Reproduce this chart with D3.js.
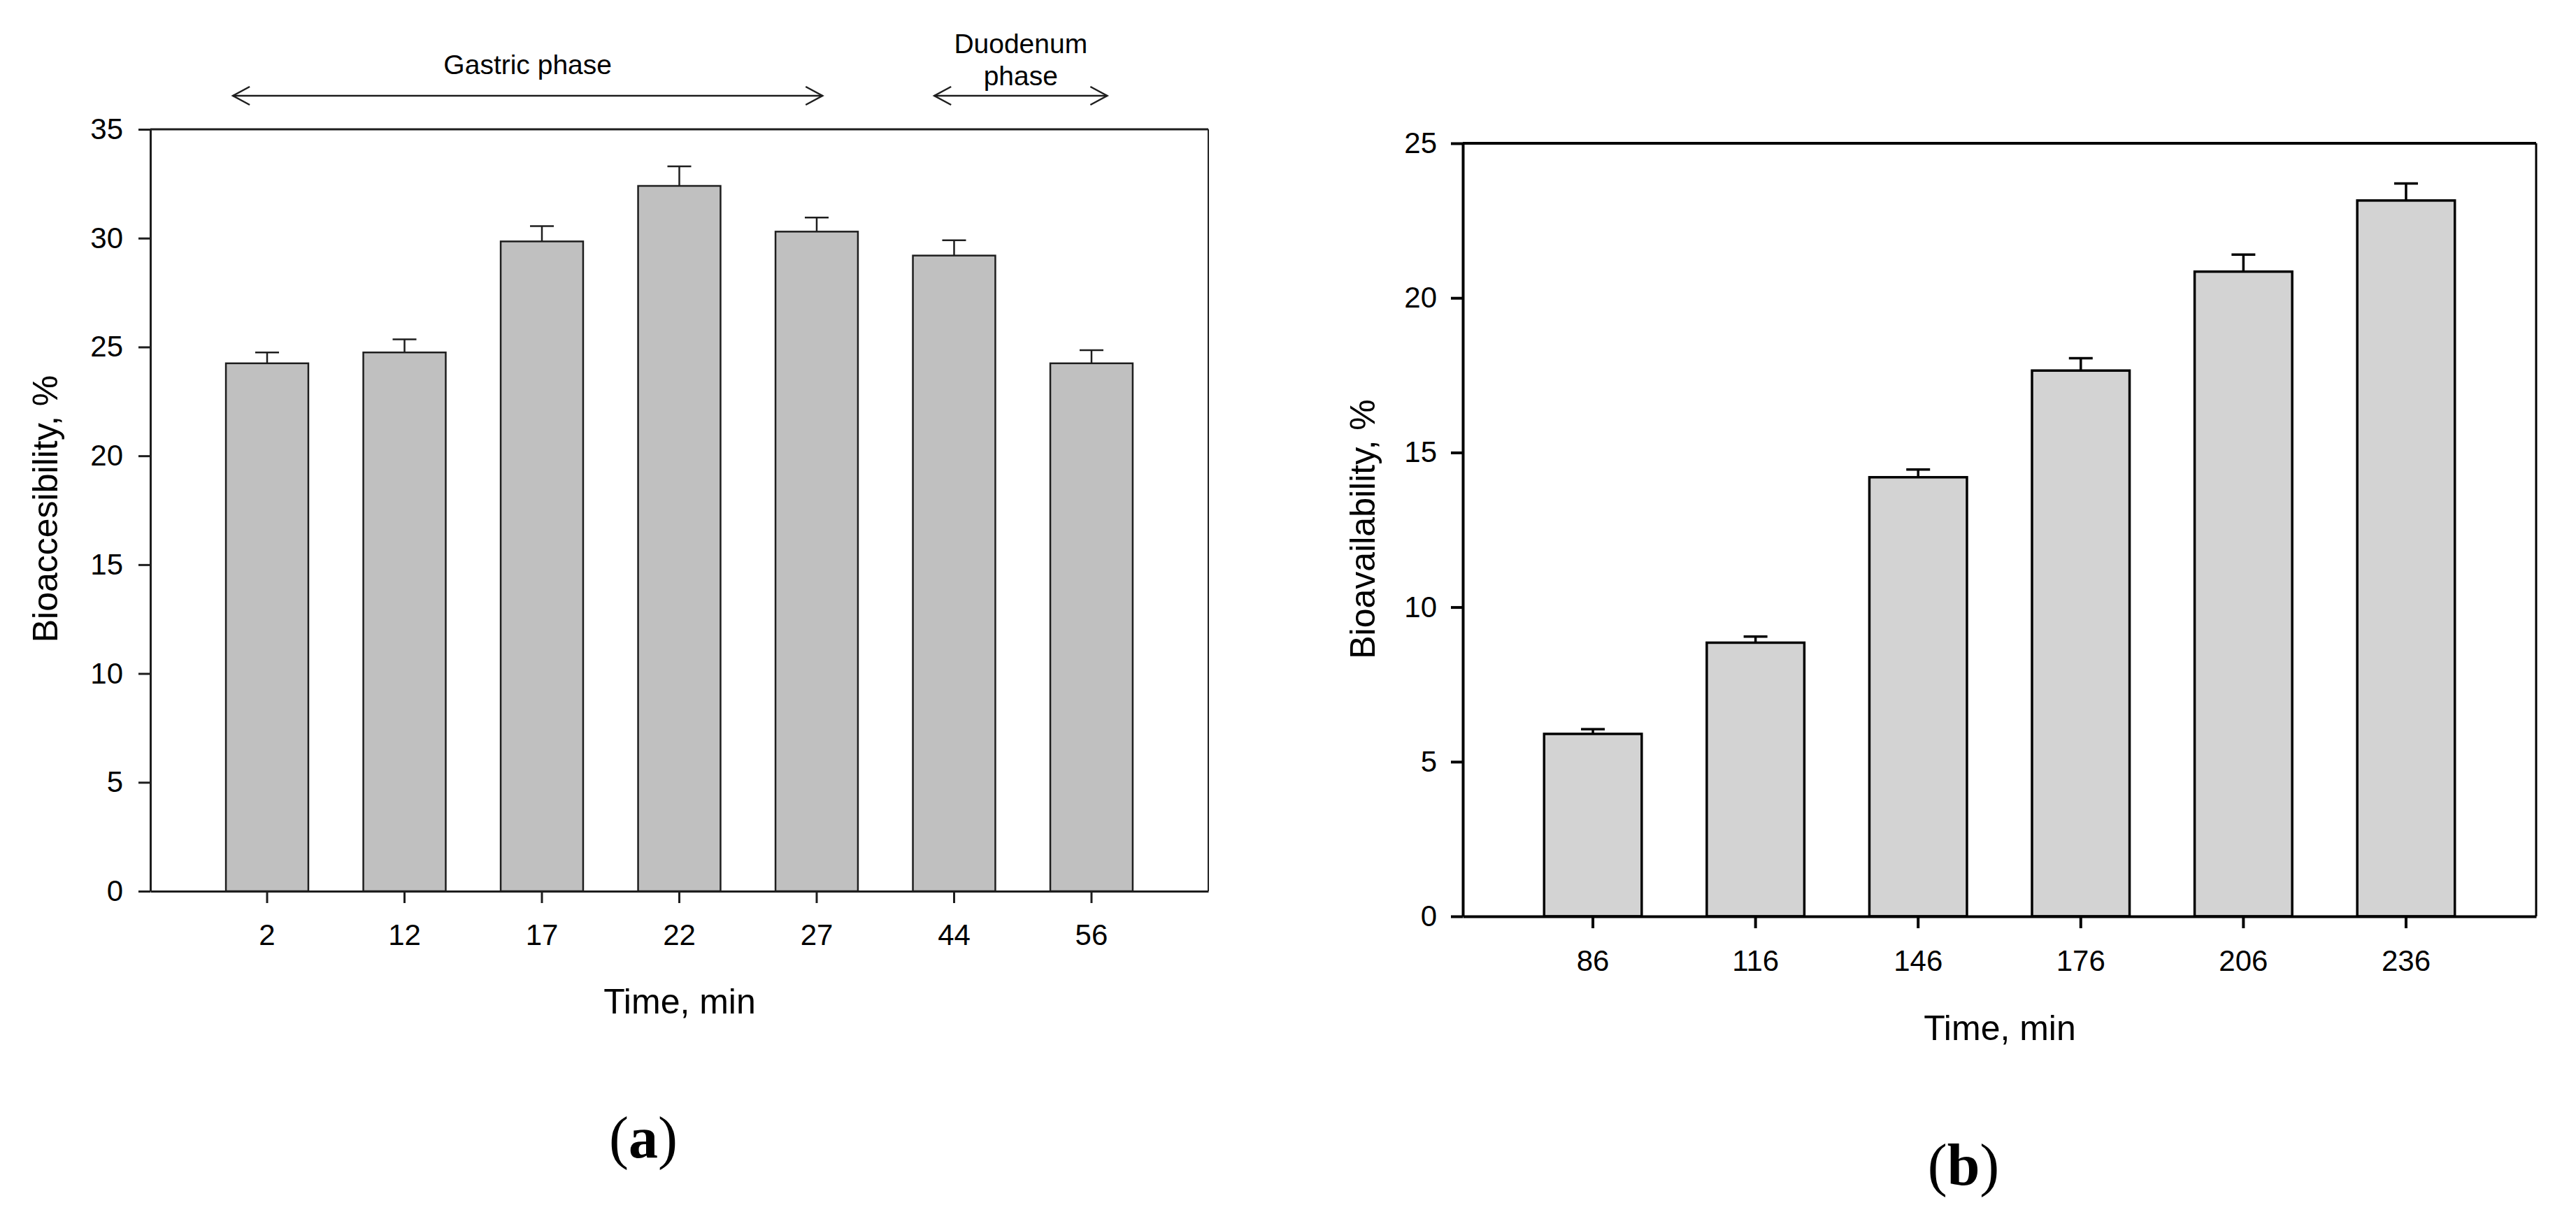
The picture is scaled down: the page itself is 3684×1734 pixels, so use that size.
<!DOCTYPE html>
<html>
<head>
<meta charset="utf-8">
<script src="https://cdn.jsdelivr.net/npm/d3@7"></script>
<style>
  body { margin: 0; background: #fff; }
  text { font-family: "Liberation Sans", Arial, sans-serif; fill: #000; }
  .panel-tag { font-family: "Liberation Serif", "Times New Roman", serif; }
</style>
</head>
<body>
<svg id="chart" width="3684" height="1734"></svg>
<script>
// panel (a): bioaccessibility during digestion
const timesA = ["2", "12", "17", "22", "27", "44", "56"];
const bioaccA = [24.25, 24.75, 29.85, 32.4, 30.3, 29.2, 24.25];
const errA = [0.5, 0.6, 0.7, 0.9, 0.65, 0.7, 0.6];
const ticksA = [0, 5, 10, 15, 20, 25, 30, 35];

// panel (b): bioavailability
const timesB = ["86", "116", "146", "176", "206", "236"];
const bioavB = [5.9, 8.85, 14.2, 17.65, 20.85, 23.15];
const errB = [0.15, 0.2, 0.25, 0.4, 0.55, 0.55];
const ticksB = [0, 5, 10, 15, 20, 25];

// phase arrows above panel (a)
const phaseLabels = [["Gastric phase"], ["Duodenum", "phase"]];
const phaseFrom = ["2", "44"];
const phaseTo = ["27", "56"];

const svg = d3.select("#chart");

function drawPanel(opt) {
    let x = d3.scaleBand()
        .domain(opt.cats)
        .range([opt.left, opt.right])
        .paddingInner(0.4)
        .paddingOuter(opt.outer);

    let y = d3.scaleLinear()
        .domain([0, opt.max])
        .range([opt.bottom, opt.top]);

    let g = svg.append("g");

    // bars
    g.selectAll("rect.bar")
        .data(opt.values)
        .enter().append("rect")
        .attr("class", "bar")
        .attr("x", (d, i) => x(opt.cats[i]))
        .attr("y", d => y(d))
        .attr("width", x.bandwidth())
        .attr("height", d => y(0) - y(d))
        .attr("fill", opt.fill)
        .attr("stroke", opt.ink)
        .attr("stroke-width", opt.lw);

    // error bars (upper only)
    let cap = 17;
    opt.values.forEach((v, i) => {
        let cx = x(opt.cats[i]) + x.bandwidth() / 2;
        g.append("line")
            .attr("x1", cx).attr("x2", cx)
            .attr("y1", y(v)).attr("y2", y(v + opt.errs[i]))
            .attr("stroke", opt.ink).attr("stroke-width", opt.lw);
        g.append("line")
            .attr("x1", cx - cap).attr("x2", cx + cap)
            .attr("y1", y(v + opt.errs[i])).attr("y2", y(v + opt.errs[i]))
            .attr("stroke", opt.ink).attr("stroke-width", opt.lw);
    });

    // frame top + right
    g.append("line")
        .attr("x1", opt.left).attr("x2", opt.right)
        .attr("y1", y(opt.max)).attr("y2", y(opt.max))
        .attr("stroke", opt.ink).attr("stroke-width", opt.lw + 0.5);
    g.append("line")
        .attr("x1", opt.right).attr("x2", opt.right)
        .attr("y1", y(0)).attr("y2", y(opt.max))
        .attr("stroke", opt.ink).attr("stroke-width", opt.lw - 0.5);

    // axes
    let yAxis = g.append("g")
        .attr("transform", "translate(" + opt.left + ",0)")
        .call(d3.axisLeft(y).tickValues(opt.ticks).tickSize(17).tickSizeOuter(0).tickPadding(opt.ypad));
    let xAxis = g.append("g")
        .attr("transform", "translate(0," + opt.bottom + ")")
        .call(d3.axisBottom(x).tickSize(17).tickSizeOuter(0));

    [yAxis, xAxis].forEach(ax => {
        ax.selectAll("path, line").attr("stroke", opt.ink).attr("stroke-width", opt.lw + 0.5);
        ax.selectAll("text").style("font-size", "42px").attr("fill", "#000")
            .style("font-family", "'Liberation Sans', Arial, sans-serif");
    });
    xAxis.selectAll("text").attr("dy", null).attr("y", opt.xlab);

    // axis titles
    g.append("text")
        .attr("transform", "translate(" + opt.ytx + "," + opt.yty + ") rotate(-90)")
        .attr("text-anchor", "middle")
        .style("font-size", "50px")
        .text(opt.ytitle);
    g.append("text")
        .attr("x", opt.xtx).attr("y", opt.xty)
        .attr("text-anchor", "middle")
        .style("font-size", "50px")
        .text("Time, min");

    // panel tag
    let tag = g.append("text")
        .attr("class", "panel-tag")
        .attr("x", opt.tagx).attr("y", opt.tagy)
        .attr("text-anchor", "middle")
        .style("font-size", "84px");
    tag.append("tspan").text("(");
    tag.append("tspan").style("font-weight", "bold").text(opt.tag);
    tag.append("tspan").text(")");

    return x;
}

let xA = drawPanel({
    cats: timesA, values: bioaccA, errs: errA, ticks: ticksA, max: 35,
    left: 215, right: 1728, top: 185, bottom: 1275, outer: 0.55,
    fill: "#c0c0c0", ink: "#1e1e1e", lw: 2.5, ypad: 22, xlab: 77,
    ytitle: "Bioaccesibility, %", ytx: 82, yty: 728,
    xtx: 972, xty: 1450, tag: "a", tagx: 920, tagy: 1656
});

drawPanel({
    cats: timesB, values: bioavB, errs: errB, ticks: ticksB, max: 25,
    left: 2092, right: 3627, top: 205, bottom: 1311, outer: 0.5,
    fill: "#d3d3d3", ink: "#000", lw: 3.5, ypad: 20, xlab: 78,
    ytitle: "Bioavailability, %", ytx: 1966, yty: 757,
    xtx: 2860, xty: 1488, tag: "b", tagx: 2808, tagy: 1695
});

// phase arrows over panel (a)
const arrowFrac = [[0.085, 0.57], [0.26, 0.69]];
const arrowY = 137;
phaseLabels.forEach((lines, i) => {
    let x1 = xA(phaseFrom[i]) + xA.bandwidth() * arrowFrac[i][0];
    let x2 = xA(phaseTo[i]) + xA.bandwidth() * arrowFrac[i][1];
    let g = svg.append("g").attr("stroke", "#1e1e1e").attr("stroke-width", 2.5).attr("fill", "none");
    g.append("line").attr("x1", x1).attr("x2", x2).attr("y1", arrowY).attr("y2", arrowY);
    g.append("path").attr("d", d3.line()([[x1 + 24, arrowY - 13], [x1, arrowY], [x1 + 24, arrowY + 13]]));
    g.append("path").attr("d", d3.line()([[x2 - 24, arrowY - 13], [x2, arrowY], [x2 - 24, arrowY + 13]]));

    let base = lines.length === 1 ? 106 : 76;
    lines.forEach((t, j) => {
        svg.append("text")
            .attr("x", (x1 + x2) / 2)
            .attr("y", base + j * 46)
            .attr("text-anchor", "middle")
            .style("font-size", "39px")
            .text(t);
    });
});
</script>
</body>
</html>
